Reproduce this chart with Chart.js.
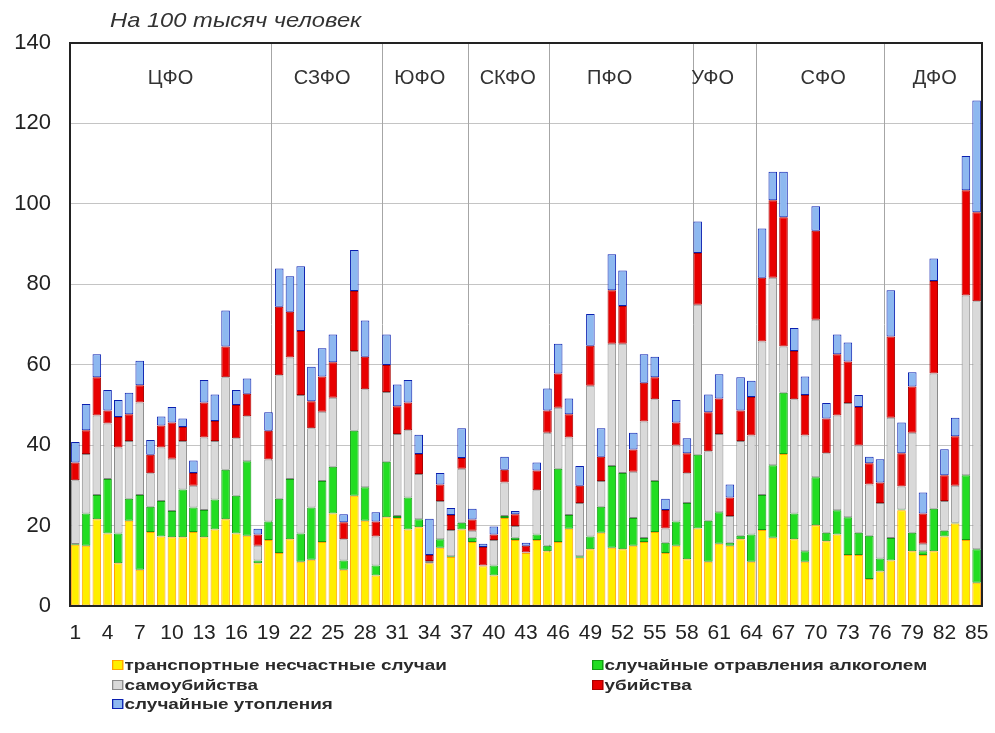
<!DOCTYPE html>
<html>
<head>
<meta charset="utf-8">
<script src="https://cdn.jsdelivr.net/npm/chart.js@4.4.1/dist/chart.umd.min.js"></script>
<style>
  html,body{margin:0;padding:0;background:#fff;}
  #wrap{position:relative;width:995px;height:733px;}
  #title{position:absolute;left:110px;top:8px;font:italic 21px "Liberation Sans",Arial,sans-serif;color:#333;white-space:nowrap;transform:scaleX(1.13);transform-origin:0 50%;}
  .leg{position:absolute;font:bold 15px "Liberation Sans",Arial,sans-serif;color:#2a2a2a;white-space:nowrap;display:flex;align-items:center;transform:scaleX(1.26);transform-origin:0 50%;}
  .leg i{display:inline-block;width:7px;height:8px;border:1px solid;margin-right:1px;}
</style>
</head>
<body>
<div id="wrap">
  <canvas id="c" width="995" height="733"></canvas>
  <div id="title">На 100 тысяч человек</div>
  <div id="legend"></div>
</div>
<script>
const categories = ['1','2','3','4','5','6','7','8','9','10','11','12','13','14','15','16','17','18','19','20',
'21','22','23','24','25','26','27','28','29','30','31','32','33','34','35','36','37','38','39','40',
'41','42','43','44','45','46','47','48','49','50','51','52','53','54','55','56','57','58','59','60',
'61','62','63','64','65','66','67','68','69','70','71','72','73','74','75','76','77','78','79','80',
'81','82','83','84','85'];

const seriesNames = ['транспортные несчастные случаи','случайные отравления алкоголем','самоубийства','убийства','случайные утопления'];

const transport = [15.2,15,21.6,18,10.6,21.2,9,18.4,17.3,17.1,17.1,18.4,17.1,19,21.6,18,17.5,10.6,16.4,13.2,
16.6,11,11.5,15.9,23,9,27.4,21.2,7.6,22.1,21.9,19,19.6,10.6,14.5,12.2,19,15.9,9.9,7.6,
21.9,16.4,13.2,16.4,13.6,15.9,19.2,12,14.1,18.2,14.5,14.1,15,15.9,18.4,13.2,15,11.6,19.3,11,
15.5,15,16.6,11,18.9,17,37.8,16.6,11,20.1,16.1,17.8,12.7,12.7,6.7,8.6,11.3,23.8,13.6,12.7,
13.6,17.3,20.5,16.4,5.8];

const alcohol = [0.2,8,6,13.6,7.4,5.5,18.6,6.3,8.8,6.5,11.9,6.1,6.8,7.5,12.3,9.4,18.5,0.7,4.6,13.5,
15,7,13,15.2,11.6,2.3,16.2,8.3,2.5,13.8,0.5,8,2,0.1,2.1,0.2,1.7,1.1,0,2.5,
0.5,0.6,0,1.4,1.4,18.2,3.4,0.4,3.2,6.5,20.3,19,6.9,1,12.7,2.5,6,14,18.3,10.2,
7.8,0.7,0.9,6.8,8.7,18,15.2,6.4,2.6,11.9,2.1,6,9.4,5.5,10.8,3.2,5.6,0.2,4.6,0.9,
10.6,1.4,0.2,16.1,8.3];

const suicide = [15.9,14.8,19.8,13.8,21.4,14.3,23,8.3,13.3,13,12,5.4,18,14.5,23,14.3,11.2,3.7,15.4,30.7,
30.2,34.5,19.7,17.2,17.2,5.3,19.8,24.4,7.2,17.3,20.4,16.7,11.2,0.5,9.5,6.5,13.4,1.7,0.2,6.3,
8.3,2.9,0.1,11,28.1,15.2,19.3,13.2,37.5,6.4,30.4,32.1,11.5,29,20.3,3.6,18.9,7.4,37.3,17.3,
19.5,6.7,23.5,24.6,38.2,46.6,11.5,28.4,28.8,39.2,19.8,23.6,28.4,21.7,12.7,13.8,29.9,5.7,24.9,1.9,
33.6,7.4,9.2,44.7,61.7];

const murder = [4.4,5.9,9.5,3.2,7.6,6.7,4.3,4.6,5.5,9,3.5,3.2,8.7,5,7.6,8.3,5.6,2.8,7.2,17,
11.4,15.9,6.7,8.8,8.8,4.2,14.9,8.1,3.7,6.7,6.9,6.9,5,1.5,4.1,3.7,2.7,2.8,4.6,1.4,
3.2,2.9,1.7,4.9,5.5,8.5,5.8,4.3,9.9,6,13.3,9.4,5.5,9.6,5.5,4.6,5.7,5,12.9,9.7,
8.8,4.6,7.6,9.6,15.8,19.3,32.2,12,10.1,22.1,8.6,15.2,10.3,9.6,5.3,5.1,20.2,8.3,11.5,7.5,
23,6.4,12.3,26.2,22.1];

const drowning = [5.1,6.5,5.7,5.1,4.2,5.3,6.1,3.7,2.2,3.9,2.1,3.1,5.6,6.6,9,3.7,3.8,1.4,4.6,9.5,
8.8,16.1,8.6,7,6.9,2,10.2,9,2.3,7.6,5.4,5.6,4.8,9,2.9,1.8,7.4,2.7,0.8,2,
3.2,0.8,0.7,2,5.5,7.4,3.9,4.9,7.9,7.1,9,8.8,4.2,7.1,5.1,2.8,5.6,3.7,7.8,4.4,
6,3.2,8.3,4,12.3,7.1,11.3,5.7,4.6,6.1,3.9,4.9,4.7,3,1.6,5.8,11.5,7.6,3.5,5.2,
5.6,6.5,4.6,8.5,27.8];

const yTicks = [0,20,40,60,80,100,120,140];

// federal districts: name, position of label and of right-hand divider (in category units, 0-based)
const districtNames = ['ЦФО','СЗФО','ЮФО','СКФО','ПФО','УФО','СФО','ДФО'];
const districtLabelAt = [8.87,23.0,32.1,40.3,49.8,59.4,69.7,80.1];
const districtDividerAt = [18.27,28.57,36.57,44.19,57.52,63.43,75.32];

const palette = [
  {bg:'#FFEE00', bd:'#FFA200'},
  {bg:'#22DD22', bd:'#129A12'},
  {bg:'#D9D9D9', bd:'#8A8A8A'},
  {bg:'#E80000', bd:'#A80000'},
  {bg:'#8DB8F0', bd:'#0A1FB0'}
];
const values = [transport, alcohol, suicide, murder, drowning];

const datasets = values.map((v,i)=>({
  label: seriesNames[i],
  data: v,
  backgroundColor: palette[i].bg,
  borderColor: palette[i].bd,
  borderWidth: 1,
  borderSkipped: false,
  barPercentage: 0.8,
  categoryPercentage: 1.0
}));

const decor = {
  id:'decor',
  beforeDatasetsDraw(chart){
    const {ctx, chartArea:a, scales:{x}} = chart;
    ctx.save();
    ctx.strokeStyle = '#A6A6A6';
    ctx.lineWidth = 1;
    districtDividerAt.forEach(p=>{
      const px = Math.round(x.getPixelForValue(p)) + 0.5;
      ctx.beginPath(); ctx.moveTo(px, a.top); ctx.lineTo(px, a.bottom); ctx.stroke();
    });
    ctx.fillStyle = '#333';
    ctx.font = '20px "Liberation Sans", Arial, sans-serif';
    ctx.textAlign = 'center'; ctx.textBaseline = 'middle';
    districtNames.forEach((n,i)=>{
      ctx.fillText(n, x.getPixelForValue(districtLabelAt[i]), a.top + 35);
    });
    ctx.restore();
  },
  afterDatasetsDraw(chart){
    const {ctx, chartArea:a} = chart;
    ctx.save();
    ctx.strokeStyle = '#222';
    ctx.lineWidth = 2;
    ctx.strokeRect(a.left, a.top, a.right - a.left, a.bottom - a.top);
    ctx.restore();
  }
};

new Chart(document.getElementById('c'), {
  type: 'bar',
  data: {labels: categories, datasets},
  options: {
    responsive: false,
    animation: false,
    layout: {padding: {top: 43, right: 13, left: 0, bottom: 0}},
    plugins: {legend: {display: false}, tooltip: {enabled: false}},
    scales: {
      x: {
        stacked: true,
        grid: {display: false, drawTicks: false},
        border: {display: false},
        ticks: {
          autoSkip: false, maxRotation: 0, minRotation: 0, padding: 15,
          color: '#222', font: {size: 21, family: '"Liberation Sans", Arial, sans-serif'},
          callback: (v, i) => (i % 3 === 0 ? categories[i] : '')
        },
        afterFit: s => { s.height = 127; s.paddingLeft = 0; s.paddingRight = 0; }
      },
      y: {
        stacked: true, min: 0, max: 140,
        afterBuildTicks: s => { s.ticks = yTicks.map(v => ({value: v})); },
        grid: {color: '#C4C4C4', drawTicks: false},
        border: {display: false},
        ticks: {padding: 19, color: '#222', font: {size: 22, family: '"Liberation Sans", Arial, sans-serif'}},
        afterFit: s => { s.width = 70; }
      }
    }
  },
  plugins: [decor]
});

// legend (two columns, row-major like the original)
const legPos = [[112,656],[592,656],[112,676],[592,676],[112,695]];
const legEl = document.getElementById('legend');
seriesNames.forEach((n,i)=>{
  const d = document.createElement('div');
  d.className = 'leg';
  d.style.left = legPos[i][0] + 'px';
  d.style.top = legPos[i][1] + 'px';
  d.innerHTML = '<i style="background:'+palette[i].bg+';border-color:'+palette[i].bd+'"></i>' + n;
  legEl.appendChild(d);
});
</script>
</body>
</html>
